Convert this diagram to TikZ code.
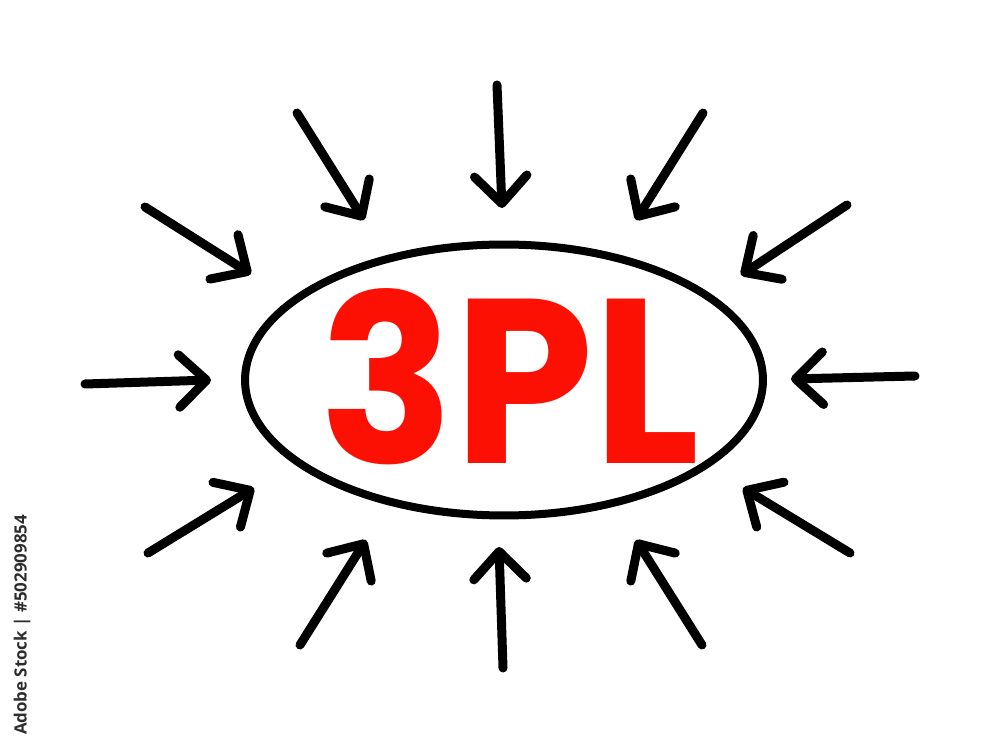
\documentclass[tikz,border=0pt]{standalone}
\usepackage{fontspec}
\usepackage{graphicx}
\newfontfamily\markfont{Poppins}
\newfontfamily\stockfont{Open Sans}
\usetikzlibrary{arrows.meta,shapes.geometric}
\definecolor{mred}{RGB}{252,16,4}
\definecolor{stockgray}{RGB}{45,45,45}
\tikzset{
  inarrow/.style={line width=0.18cm, line cap=round, draw=black,
    -{Straight Barb[length=0.55cm, width=1.05cm, line cap=round, line join=round]}},
}
\begin{document}
\begin{tikzpicture}[x=0.02cm, y=-0.02cm]
\useasboundingbox[fill=white] (0,0) rectangle (1000,756);
% central oval
\node[ellipse, draw=black, line width=0.16cm, minimum width=10.36cm, minimum height=5.42cm, inner sep=0pt] (oval) at (504,380) {};
\node[text=mred, inner sep=0pt] (label) at (510,377) {\resizebox{7.6cm}{3.5cm}{\markfont\bfseries 3PL}};
% arrow tails and tips
\coordinate (s1) at (497,85);   \coordinate (e1) at (502,208);
\coordinate (s2) at (297,113);  \coordinate (e2) at (364,220);
\coordinate (s3) at (703,113);  \coordinate (e3) at (636,220);
\coordinate (s4) at (145,207);  \coordinate (e4) at (251,274);
\coordinate (s5) at (847,205);  \coordinate (e5) at (741,275);
\coordinate (s6) at (85,384);   \coordinate (e6) at (211,380);
\coordinate (s7) at (915,376);  \coordinate (e7) at (791,379);
\coordinate (s8) at (148,553);  \coordinate (e8) at (254,488);
\coordinate (s9) at (850,553);  \coordinate (e9) at (743,488);
\coordinate (s10) at (300,645); \coordinate (e10) at (366,540);
\coordinate (s11) at (503,668); \coordinate (e11) at (499,547);
\coordinate (s12) at (702,645); \coordinate (e12) at (636,540);
\foreach \i in {1,...,12} { \draw[inarrow] (s\i) -- (e\i); }
% stock id
\node[rotate=90, text=stockgray, inner sep=0pt] (stockid) at (22,625) {\resizebox{4.4cm}{!}{\stockfont\bfseries Adobe Stock | \#502909854}};
\end{tikzpicture}
\end{document}
